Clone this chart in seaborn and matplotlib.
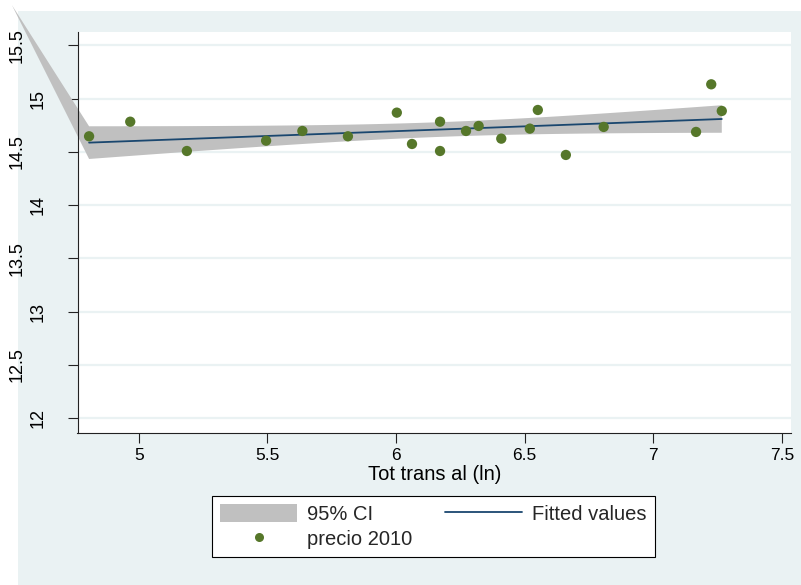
import numpy as np
import matplotlib
matplotlib.use("Agg")
import matplotlib.pyplot as plt
import seaborn as sns
from matplotlib.patches import Rectangle, Patch
from matplotlib.lines import Line2D
from matplotlib.transforms import blended_transform_factory

# Observations: log of total transactions vs. 2010 price
tot_trans_ln = [4.807, 4.967, 5.187, 5.495, 5.636, 5.813, 6.003, 6.062, 6.171, 6.171,
                6.272, 6.321, 6.409, 6.520, 6.551, 6.660, 6.807, 7.166, 7.225, 7.266]
precio_2010 = [14.647, 14.784, 14.509, 14.606, 14.697, 14.647, 14.869, 14.575, 14.784, 14.509,
               14.697, 14.744, 14.625, 14.719, 14.894, 14.472, 14.735, 14.688, 15.135, 14.885]
x_ticks = [5, 5.5, 6, 6.5, 7, 7.5]
y_ticks = [12, 12.5, 13, 13.5, 14, 14.5, 15, 15.5]
legend_labels = ["95% CI", "precio 2010", "Fitted values"]
x_title = "Tot trans al (ln)"
# stray first vertex of the confidence-band polygon (data units)
band_origin = (4.507, 15.879)
T_975_DF18 = 2.1009

BG = "#EAF2F3"
GRAY = "#C0C0C0"
NAVY = "#1A476F"
GREEN = "#56772A"
W, H = 801, 585

# Linear fit with 95% confidence interval of the mean
x = np.asarray(tot_trans_ln)
y = np.asarray(precio_2010)
n = len(x)
slope, intercept = np.polyfit(x, y, 1)
resid = y - (intercept + slope * x)
s = np.sqrt(resid @ resid / (n - 2))
xg = np.linspace(x.min(), x.max(), 100)
yg = intercept + slope * xg
se = s * np.sqrt(1 / n + (xg - x.mean()) ** 2 / ((x - x.mean()) ** 2).sum())
lo, hi = yg - T_975_DF18 * se, yg + T_975_DF18 * se

sns.set_theme(style="white")
plt.rcParams["font.family"] = ["Liberation Sans", "DejaVu Sans"]

fig = plt.figure(figsize=(W / 100, H / 100), dpi=100, facecolor="white")
fig.patches.append(Rectangle((18 / W, 0), 1 - 18 / W, 1 - 11 / H, transform=fig.transFigure,
                             facecolor=BG, edgecolor="none", zorder=-10))
ax = fig.add_axes([77.5 / W, 1 - 433 / H, (791 - 77.5) / W, (433 - 32) / H])
ax.set_facecolor("white")

ax.set_xlim(4.762, 7.535)
ax.set_ylim(11.862, 15.626)
ax.set_xticks(x_ticks)
ax.set_xticklabels([f"{v:g}" for v in x_ticks])
ax.set_yticks(y_ticks)
ax.yaxis.grid(True, color=BG, lw=1.6)
ax.xaxis.grid(False)
ax.set_axisbelow(True)

# confidence band
ax.fill(np.r_[band_origin[0], xg, xg[::-1]], np.r_[band_origin[1], lo, hi[::-1]],
        color=GRAY, lw=0, clip_on=False, zorder=1)
sns.lineplot(x=xg, y=yg, color=NAVY, lw=1.3, ax=ax, zorder=2)
sns.scatterplot(x=x, y=y, color=GREEN, s=55, edgecolor="none", linewidth=0, ax=ax, zorder=3)

for side in ("top", "right"):
    ax.spines[side].set_visible(False)
for side in ("left", "bottom"):
    ax.spines[side].set_color("#222222")
    ax.spines[side].set_linewidth(0.8)

ax.tick_params(axis="both", direction="out", length=7, width=0.8, color="#222222",
               left=True, bottom=True)
ax.tick_params(axis="x", labelsize=12.5, pad=4, labelcolor="black")
ax.tick_params(axis="y", labelleft=False)

# rotated y tick labels, staggered
trans = blended_transform_factory(fig.transFigure, ax.transData)
for v in y_ticks:
    xpix = 38.5 if float(v).is_integer() else 17.5
    ax.text(xpix / W, v, f"{v:g}", transform=trans, rotation=90, ha="center", va="center",
            fontsize=13, color="black", clip_on=False)

ax.set_xlabel(x_title, fontsize=14.5, labelpad=1.5, color="black")
ax.set_ylabel("")

handles = [Patch(facecolor=GRAY, edgecolor="none"),
           Line2D([], [], ls="none", marker="o", color=GREEN, markersize=6.5, markeredgewidth=0),
           Line2D([], [], color=NAVY, lw=1.3)]
leg = fig.legend(handles, legend_labels, ncol=2, loc="upper left",
                 bbox_to_anchor=(211.7 / W, 1 - 495.7 / H), frameon=True, fancybox=False,
                 edgecolor="black", facecolor="white", framealpha=1, fontsize=14.5,
                 handlelength=3.85, handleheight=1.05, handletextpad=0.5, columnspacing=1.6,
                 borderpad=0.4, labelspacing=0.25, borderaxespad=0)
leg.get_frame().set_linewidth(0.8)

fig.savefig("out.png", dpi=100, facecolor="white")
